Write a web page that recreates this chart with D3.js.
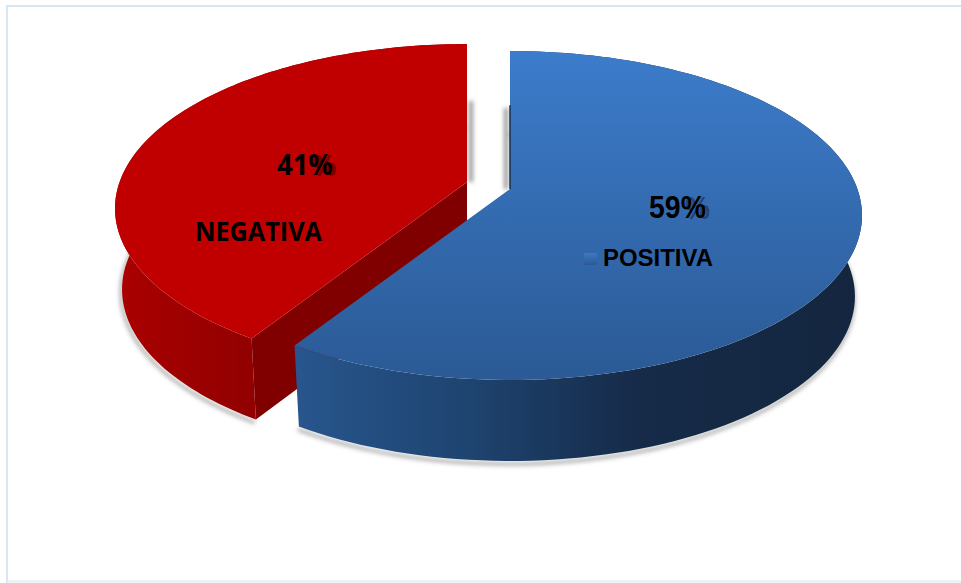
<!DOCTYPE html>
<html>
<head>
<meta charset="utf-8">
<script src="https://cdn.jsdelivr.net/npm/d3@7"></script>
<style>
  html, body { margin: 0; padding: 0; background: #fff; }
  svg { display: block; }
</style>
</head>
<body>
<div id="container"></div>
<script>
const categories = ['POSITIVA', 'NEGATIVA']
const values = [59, 41]
const percentLabels = ['59%', '41%']

const width = 961
const height = 583

// fake 3D: circle seen in perspective
const apex = { x: 510, y: 189 }
const radiusX = 347.4
const radiusY = 160.2
const tilt = 0.161
const depth = 81
const bottomScale = 0.98
// how far each slice is pulled out of the pie
const explode = [{ x: 0, y: 0 }, { x: -43, y: -7 }]

function project(angle, r, off, lower) {
  let u = Math.sin(angle) * r
  let v = -Math.cos(angle) * r
  let w = 1 - tilt * v
  let dx = radiusX * u / w
  let dy = radiusY * v / w
  if (lower) {
    return [apex.x + off.x + dx * bottomScale, apex.y + off.y + dy + depth]
  }
  return [apex.x + off.x + dx, apex.y + off.y + dy]
}

function rim(a0, a1, off, lower) {
  let pts = []
  for (let i = 0; i <= 120; i++) {
    pts.push(project(a0 + (a1 - a0) * i / 120, 1, off, lower))
  }
  return pts
}

const line = d3.line()

const arcs = d3.pie().sort(null)(values)

const svg = d3.select('#container').append('svg')
  .attr('width', width)
  .attr('height', height)

const defs = svg.append('defs')

function gradient(id, x1, y1, x2, y2, stops) {
  let g = defs.append('linearGradient')
    .attr('id', id)
    .attr('gradientUnits', 'userSpaceOnUse')
    .attr('x1', x1).attr('y1', y1).attr('x2', x2).attr('y2', y2)
  stops.forEach(s => g.append('stop').attr('offset', s[0]).attr('stop-color', s[1]))
}

gradient('blueTop', 0, 50, 0, 380, [[0, '#3c7ccb'], [1, '#2b5a95']])
gradient('blueSide', 300, 0, 860, 0, [[0, '#27558c'], [0.3, '#1e4470'], [0.6, '#162b49'], [1, '#14263f']])
gradient('redSide', 120, 0, 250, 0, [[0, '#aa0000'], [1, '#920000']])
gradient('swatch', 0, 252, 0, 265, [[0, '#3d7cc9'], [1, '#2b5a95']])

// userSpace region, a straight vertical line has an empty bbox
defs.append('filter').attr('id', 'soft')
  .attr('filterUnits', 'userSpaceOnUse')
  .attr('x', 0).attr('y', 0).attr('width', width).attr('height', height)
  .append('feGaussianBlur').attr('stdDeviation', 2)

defs.append('filter').attr('id', 'softText')
  .append('feGaussianBlur').attr('stdDeviation', 0.6)

// frame
svg.append('path')
  .attr('d', line([[7, height], [7, 6], [width, 6]]))
  .attr('fill', 'none')
  .attr('stroke', '#d7e5f4')
  .attr('stroke-width', 2)
svg.append('path')
  .attr('d', line([[7, 581.5], [width, 581.5]]))
  .attr('stroke', '#e4edf6')
  .attr('stroke-width', 2)

const fills = ['url(#blueTop)', '#c00000']
const sides = ['url(#blueSide)', 'url(#redSide)']

// draw red first, blue lies over it
;[1, 0].forEach(i => {
  let d = arcs[i]
  let off = explode[i]
  let a0 = d.startAngle
  let a1 = d.endAngle
  let g = svg.append('g').attr('class', 'slice-' + categories[i])

  let topRim = rim(a0, a1, off, false)
  let lowRim = rim(a0, a1, off, true)
  let band = topRim.concat(lowRim.slice().reverse())

  // ground shadow
  g.append('path')
    .attr('d', line(lowRim.map(p => [p[0] - 1, p[1] + 3])))
    .attr('fill', 'none')
    .attr('stroke', '#555')
    .attr('stroke-opacity', 0.55)
    .attr('stroke-width', 3)
    .attr('filter', 'url(#soft)')

  // shadow strip in the gap, along the first radius
  let gapSide = i === 0 ? -4 : 4
  g.append('path')
    .attr('d', line([project(0, 0.55, off), project(0, 0, off)].map(p => [p[0] + gapSide, p[1]])))
    .attr('stroke', '#666')
    .attr('stroke-width', 4)
    .attr('stroke-opacity', 0.7)
    .attr('filter', 'url(#soft)')

  g.append('path')
    .attr('d', line(band) + 'Z')
    .attr('fill', sides[i])

  // inner wall of the cut (only the red one faces us)
  if (i === 1) {
    let inner = project(a0, 1, off, false)
    let innerLow = project(a0, 1, off, true)
    let c = project(0, 0, off, false)
    let cLow = project(0, 0, off, true)
    g.append('path')
      .attr('d', line([c, inner, innerLow, cLow]) + 'Z')
      .attr('fill', '#800000')
  }

  let c = project(0, 0, off, false)
  g.append('path')
    .attr('d', line([c].concat(topRim)) + 'Z')
    .attr('fill', fills[i])

  if (i === 0) {
    g.append('path')
      .attr('d', line([project(0, 0.57, off), c]))
      .attr('stroke', '#16304f')
      .attr('stroke-width', 1.5)
  }
})

// percent labels, the faded copy of the % sign sits behind them
const pctFonts = ['"Liberation Sans", Arial, sans-serif', '"Open Sans", sans-serif']
const pctPos = [{ x: 649, y: 218 }, { x: 277, y: 175 }]
const pctSize = [31, 28]
const pctLength = [57, 56]

percentLabels.forEach((t, i) => {
  let ghost = svg.append('text')
    .attr('x', pctPos[i].x + 4).attr('y', pctPos[i].y + 1)
    .attr('font-family', pctFonts[i])
    .attr('font-size', pctSize[i])
    .attr('font-weight', 'bold')
    .attr('textLength', pctLength[i])
    .attr('lengthAdjust', 'spacingAndGlyphs')
    .attr('filter', 'url(#softText)')
  ghost.append('tspan').attr('fill-opacity', 0).text(t.slice(0, -1))
  ghost.append('tspan').attr('fill', '#000').attr('fill-opacity', 0.35).text('%')

  svg.append('text')
    .attr('x', pctPos[i].x).attr('y', pctPos[i].y)
    .attr('font-family', pctFonts[i])
    .attr('font-size', pctSize[i])
    .attr('font-weight', 'bold')
    .attr('textLength', pctLength[i])
    .attr('lengthAdjust', 'spacingAndGlyphs')
    .attr('fill', '#000')
    .text(t)
})

// legend entry and category label
svg.append('rect')
  .attr('x', 584).attr('y', 253)
  .attr('width', 13).attr('height', 12)
  .attr('fill', 'url(#swatch)')

svg.append('text')
  .attr('x', 603).attr('y', 266)
  .attr('font-family', '"Liberation Sans", Arial, sans-serif')
  .attr('font-size', 23)
  .attr('font-weight', 'bold')
  .attr('textLength', 110)
  .attr('lengthAdjust', 'spacingAndGlyphs')
  .attr('fill', '#000')
  .text(categories[0])

svg.append('text')
  .attr('x', 195).attr('y', 241)
  .attr('font-family', '"Open Sans", sans-serif')
  .attr('font-size', 26)
  .attr('font-weight', 'bold')
  .attr('textLength', 127)
  .attr('lengthAdjust', 'spacingAndGlyphs')
  .attr('fill', '#000')
  .text(categories[1])
</script>
</body>
</html>
